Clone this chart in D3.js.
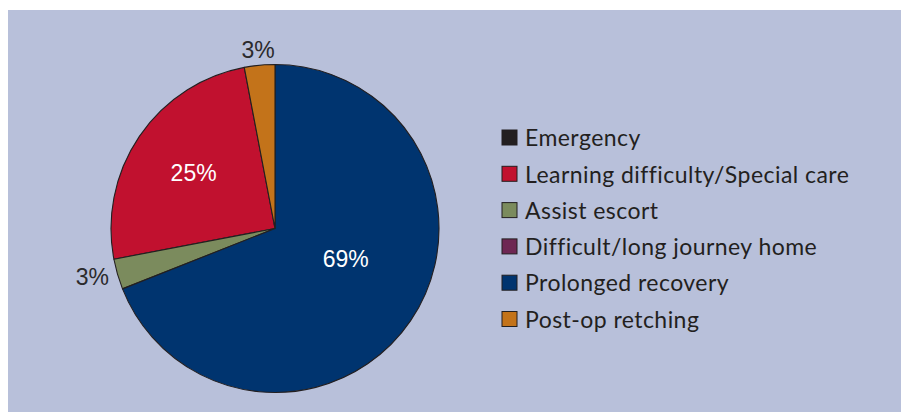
<!DOCTYPE html>
<html>
<head>
<meta charset="utf-8">
<script src="https://cdn.jsdelivr.net/npm/d3@7"></script>
<style>
  body { margin: 0; background: #fff; }
  svg { display: block; }
</style>
</head>
<body>
<div class="chart-container"></div>
<script>
// données du graphique
const categories = ['Emergency', 'Learning difficulty/Special care', 'Assist escort',
    'Difficult/long journey home', 'Prolonged recovery', 'Post-op retching'];
const values = [0, 25, 3, 0, 69, 3];
const colors = ['#231f20', '#c1112f', '#7b8b5d', '#6e2753', '#00346f', '#c3731a'];
// ordre de dessin dans le sens horaire depuis midi
const drawOrder = ['Prolonged recovery', 'Assist escort', 'Learning difficulty/Special care', 'Post-op retching',
    'Emergency', 'Difficult/long journey home'];

const width = 901, height = 412;
const cx = 275, cy = 228.5, radius = 164;

const data = categories.map((c, i) => ({ name: c, value: values[i], color: colors[i] }));

let svg = d3.select('.chart-container')
    .append('svg')
    .attr('width', width)
    .attr('height', height);

// fond
svg.append('rect')
    .attr('x', 8).attr('y', 10)
    .attr('width', width - 8).attr('height', height - 10)
    .attr('fill', '#b8c0da');

let pie = d3.pie()
    .value(d => d.value)
    .sort((a, b) => drawOrder.indexOf(a.name) - drawOrder.indexOf(b.name));

let arc = d3.arc().innerRadius(0).outerRadius(radius);

let arcs = pie(data).filter(d => d.data.value > 0);

let g = svg.append('g').attr('transform', `translate(${cx},${cy})`);

g.selectAll('.slice')
    .data(arcs)
    .enter()
    .append('path')
    .attr('class', 'slice')
    .attr('d', arc)
    .attr('fill', d => d.data.color)
    .attr('stroke', '#231f20')
    .attr('stroke-width', 1.1)
    .attr('stroke-linejoin', 'round');

// étiquettes: dedans pour les grosses parts, dehors pour les petites
const fmt = d => `${d}%`;
g.selectAll('.lbl')
    .data(arcs)
    .enter()
    .append('text')
    .attr('class', 'lbl')
    .each(function (d) {
        let mid = (d.startAngle + d.endAngle) / 2;
        let inside = d.data.value >= 10;
        let t = d3.select(this);
        if (inside) {
            // la grosse part a son étiquette un peu décalée vers le haut
            let big = d.data.value > 50;
            let a = big ? mid - 0.19 : mid;
            let r = big ? radius * 0.47 : radius * 0.6;
            t.attr('x', r * Math.sin(a))
                .attr('y', -r * Math.cos(a))
                .attr('fill', '#ffffff')
                .attr('text-anchor', 'middle');
        } else {
            let side = Math.sin(mid);
            let r = Math.abs(side) > 0.5 ? radius + 9 : radius + 15;
            let x = r * Math.sin(mid), y = -r * Math.cos(mid);
            t.attr('x', x)
                .attr('y', y)
                .attr('fill', '#2b2a2c')
                .attr('text-anchor', side < -0.5 ? 'end' : (side > 0.5 ? 'start' : 'middle'));
        }
    })
    .attr('dy', '0.35em')
    .attr('font-family', '"Liberation Sans", Arial, sans-serif')
    .attr('font-size', 23)
    .text(d => fmt(d.data.value));

// légende
const legendX = 502, legendY = 130, rowH = 36.3, box = 15;
let legend = svg.append('g').attr('transform', `translate(${legendX},${legendY})`);

let rows = legend.selectAll('.row')
    .data(data)
    .enter()
    .append('g')
    .attr('class', 'row')
    .attr('transform', (d, i) => `translate(0,${i * rowH})`);

rows.append('rect')
    .attr('width', box).attr('height', box)
    .attr('fill', d => d.color)
    .attr('stroke', '#231f20')
    .attr('stroke-width', 1);

rows.append('text')
    .attr('x', 23)
    .attr('y', box / 2)
    .attr('dy', '0.38em')
    .attr('font-family', 'Lato, "Noto Sans", sans-serif')
    .attr('font-size', 23)
    .attr('letter-spacing', 0.45)
    .attr('fill', '#231f20')
    .text(d => d.name);
</script>
</body>
</html>
